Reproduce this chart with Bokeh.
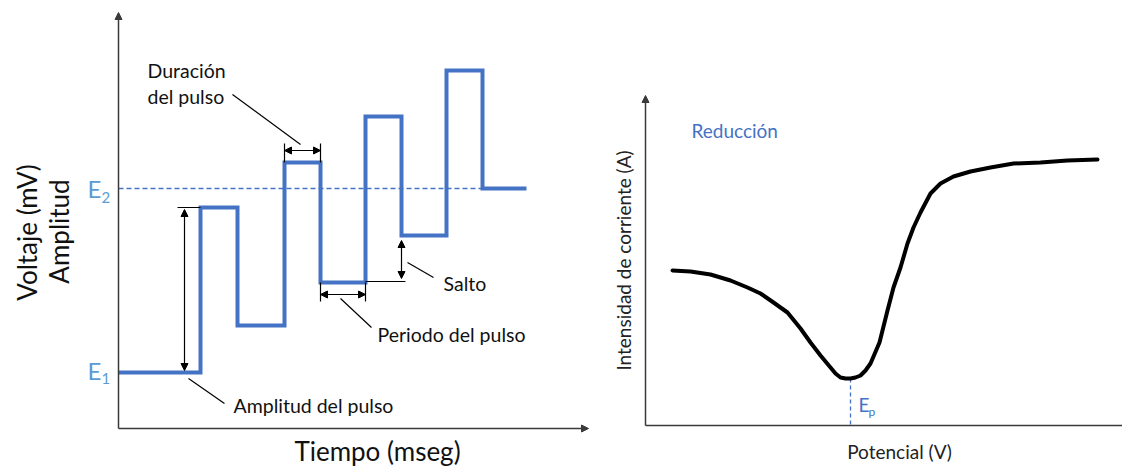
import math
from bokeh.plotting import figure
from bokeh.layouts import row
from bokeh.models import Label, Arrow, NormalHead, Range1d
from bokeh.embed import file_html
from bokeh.resources import INLINE

# ---------------- data ----------------
# Left panel: pulse waveform (time in ms, voltage in mV above axis origin)
t_edges = [0, 82, 119, 166, 202, 247, 283, 328, 364, 408]
v_levels = [56, 221, 103, 266, 146, 312, 193, 358, 240]
E1 = 56
E2 = 240

# Right panel: voltammogram (potential, current), arbitrary units
potential = [27, 45, 65, 85, 102, 115, 128, 142, 155, 165, 175, 185, 190, 195, 200, 205,
             210, 215, 220, 225, 234, 242, 248, 255, 262, 268, 275, 285, 295, 308, 325,
             345, 368, 395, 422, 452]
current = [155, 154, 151, 145, 138, 132, 123, 113, 97, 83, 70, 58, 52, 48, 47, 47,
           48, 50, 55, 62, 83, 115, 138, 158, 182, 198, 213, 232, 242, 249, 254,
           258, 262, 263, 265, 266]
Ep = 205
Ep_current = 47

FONT = "Lato"
BLUE = "#4472C4"
LBLUE = "#5B9BD5"
AX = "#3a3a3a"


def base_fig(w, h, xr, yr):
    p = figure(width=w, height=h, x_range=Range1d(*xr), y_range=Range1d(*yr),
               output_backend="svg", toolbar_location=None, min_border=0,
               min_border_left=0, min_border_right=0, min_border_top=0,
               min_border_bottom=0)
    p.axis.visible = False
    p.grid.visible = False
    p.outline_line_color = None
    p.background_fill_color = "white"
    p.border_fill_color = "white"
    return p


def lab(p, x, y, text, size, color="#111111", align="left", baseline="middle", angle=0.0):
    p.add_layout(Label(x=x, y=y, text=text, text_font=FONT, text_font_size=f"{size}px",
                       text_color=color, text_align=align, text_baseline=baseline,
                       angle=angle))


def darrow(p, x0, y0, x1, y1, size=7):
    p.add_layout(Arrow(x_start=x0, y_start=y0, x_end=x1, y_end=y1, line_width=1.2,
                       line_color="black",
                       start=NormalHead(size=size, fill_color="black", line_color="black", line_width=1),
                       end=NormalHead(size=size, fill_color="black", line_color="black", line_width=1)))


def axarrow(p, x0, y0, x1, y1, head=True):
    p.add_layout(Arrow(x_start=x0, y_start=y0, x_end=x1, y_end=y1, line_width=1.5,
                       line_color=AX,
                       end=NormalHead(size=7, fill_color=AX, line_color=AX, line_width=1) if head else None))


# ---------------- left panel ----------------
L = base_fig(600, 467, (-118, 482), (-39, 428))

axarrow(L, 0, 0, 0, 416)
axarrow(L, 0, 0, 470, 0)

# E2 dashed reference
L.line([0, t_edges[-1]], [E2, E2], line_color=BLUE, line_width=1.3, line_dash="5 3")

# waveform as steps
xs, ys = [], []
for i, v in enumerate(v_levels):
    xs += [t_edges[i], t_edges[i + 1]]
    ys += [v, v]
L.line(xs, ys, line_color=BLUE, line_width=4, line_join="miter")

# annotation ticks & leader lines
L.segment(x0=[59, 166, 202, 202, 247, 247, 114, 70, 222, 289],
          y0=[221, 285, 266, 146, 127, 147, 334, 50, 130, 166],
          x1=[82, 166, 202, 202, 247, 287, 182, 106, 253, 315],
          y1=[221, 266, 285, 127, 146, 147, 284, 25, 101, 151],
          line_color="black", line_width=1.2)
darrow(L, 66, 219, 66, 58)
darrow(L, 166, 278, 202, 278)
darrow(L, 202, 134, 247, 134)
darrow(L, 283, 188, 283, 150)

lab(L, -92, 196, "Voltaje (mV)", 26, angle=math.pi / 2, align="center")
lab(L, -60, 197, "Amplitud", 26, angle=math.pi / 2, align="center")
lab(L, 259, -22, "Tiempo (mseg)", 26, align="center")

lab(L, -31, E2, "E", 24, color=LBLUE)
lab(L, -17, E2 - 9, "2", 15, color=LBLUE)
lab(L, -31, E1 + 2, "E", 24, color=LBLUE)
lab(L, -17, E1 - 6, "1", 15, color=LBLUE)

lab(L, 29, 358, "Duración", 19.5)
lab(L, 29, 332, "del pulso", 19.5)
lab(L, 115, 23, "Amplitud del pulso", 19.5)
lab(L, 259, 94, "Periodo del pulso", 19.5)
lab(L, 325, 145, "Salto", 19.5)

# ---------------- right panel ----------------
R = base_fig(522, 467, (-45, 477), (-42, 425))
axarrow(R, 0, 0, 0, 330)
axarrow(R, 0, 0, 477, 0, head=False)

R.line([Ep, Ep], [Ep_current, 0], line_color=BLUE, line_width=1.3, line_dash="4 3")
R.line(potential, current, line_color="black", line_width=4, line_join="round", line_cap="round")

lab(R, 46, 295, "Reducción", 19, color=BLUE)
lab(R, -22, 165, "Intensidad de corriente (A)", 19, angle=math.pi / 2, align="center", color="#222222")
lab(R, 254, -26, "Potencial (V)", 19, align="center", color="#222222")
lab(R, 213, 21, "E", 19, color=BLUE)
lab(R, 223, 14, "p", 12, color=BLUE)

layout = row(L, R)
open("out.html", "w").write(file_html(layout, INLINE))
